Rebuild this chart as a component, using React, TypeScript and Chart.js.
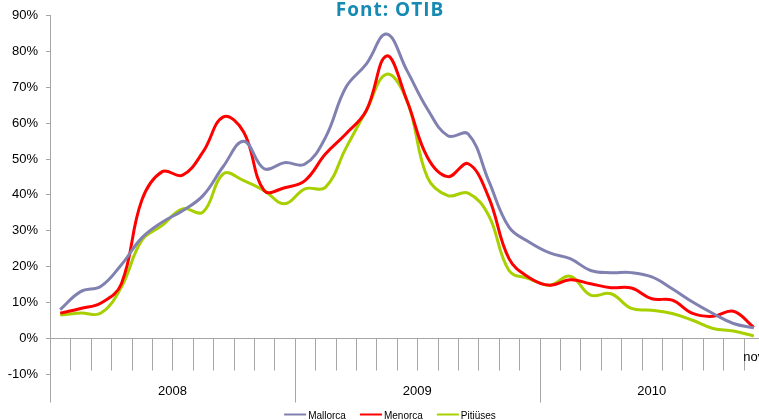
import React, { useEffect, useRef } from "react";
import { Chart, registerables } from "chart.js";

Chart.register(...registerables);

// ---- data ----
const titleText = "Font: OTIB";
const years = ["2008", "2009", "2010"];
const monthsPerYear = [12, 12, 11];
const monthNames = ["gen", "feb", "mar", "abr", "mai", "jun", "jul", "ago", "set", "oct", "nov", "des"];
const shownMonthLabel = "nov"; // only the last month label is visible in the original

const mallorca = [8, 13, 14.5, 20.5, 28, 32.4, 35.6, 39.8, 48, 55, 47.3, 49, 48.6, 56, 70, 76.5, 84.9, 74.7, 64, 56.5, 57, 44, 31, 26.8, 23.8, 22.2, 18.9, 18.3, 18.3, 17.1, 13.8, 10.1, 6.9, 4.1, 2.9];
const menorca = [7, 8.3, 9.8, 15.2, 38.5, 46.5, 45.5, 52, 61.8, 57.5, 41.2, 42, 44, 51.4, 57, 63.5, 78.8, 66.3, 50.5, 45.1, 48.7, 39.4, 22.2, 16.9, 14.8, 16.3, 15.2, 14.1, 14, 11, 10.6, 6.9, 6.1, 7.5, 3];
const pitiuses = [6.5, 7, 7, 14.3, 27.3, 31.5, 36.1, 35.2, 45.9, 44, 41.2, 37.5, 41.7, 42.1, 53, 63.5, 73.7, 66.3, 44.9, 39.8, 40.5, 34.3, 18.9, 16.6, 14.8, 17.3, 12, 12.4, 8.3, 7.8, 6.9, 5, 2.7, 2, 0.6];

const seriesNames = ["Mallorca", "Menorca", "Pitiüses"];
const seriesColors = ["#8181b1", "#ff0000", "#a8d000"];

const yMin = -10;
const yMax = 90;
const yStep = 10;

// categories built from the arrays above
const categories: string[] = [];
const categoryYear: number[] = [];
years.forEach((yr, yi) => {
  for (let m = 0; m < monthsPerYear[yi]; m++) {
    categories.push(monthNames[m] + " " + yr);
    categoryYear.push(yi);
  }
});

const AXIS_COLOR = "#a6a6a6";
const TEXT_FONT = "'Liberation Sans', Arial, sans-serif";

const decorPlugin = {
  id: "decor",
  beforeDatasetsDraw(chart: any) {
    const { ctx, chartArea, scales } = chart;
    const x = scales.x;
    const y = scales.y;
    const y0 = Math.round(y.getPixelForValue(0)) + 0.5;
    const step = x.getPixelForValue(1) - x.getPixelForValue(0);
    ctx.save();
    ctx.strokeStyle = AXIS_COLOR;
    ctx.lineWidth = 1;
    // category axis line
    ctx.beginPath();
    ctx.moveTo(chartArea.left, y0);
    ctx.lineTo(chartArea.right, y0);
    ctx.stroke();
    // tick marks between categories
    for (let i = 0; i <= categories.length; i++) {
      const bx = Math.round(x.getPixelForValue(i) - step / 2) + 0.5;
      const isYearEdge = i === 0 || i === categories.length || categoryYear[i] !== categoryYear[i - 1];
      ctx.beginPath();
      ctx.moveTo(bx, y0);
      ctx.lineTo(bx, y0 + (isYearEdge ? 64 : 32));
      ctx.stroke();
    }
    // year labels
    ctx.fillStyle = "#000";
    ctx.font = "13px " + TEXT_FONT;
    ctx.textAlign = "center";
    ctx.textBaseline = "middle";
    let start = 0;
    years.forEach((yr, yi) => {
      const end = start + monthsPerYear[yi] - 1;
      const cx = (x.getPixelForValue(start) + x.getPixelForValue(end)) / 2;
      ctx.fillText(yr, cx, y0 + 52.5);
      start = end + 1;
    });
    // the only visible month label
    ctx.fillText(shownMonthLabel, x.getPixelForValue(categories.length - 1), y0 + 18.5);
    ctx.restore();
  },
  afterDraw(chart: any) {
    const { ctx } = chart;
    ctx.save();
    // title
    ctx.fillStyle = "#168ab2";
    ctx.font = "700 19px 'Open Sans', sans-serif";
    (ctx as any).letterSpacing = "1px";
    ctx.textAlign = "center";
    ctx.textBaseline = "alphabetic";
    ctx.fillText(titleText, 390, 16);
    (ctx as any).letterSpacing = "0px";
    // legend
    ctx.font = "10px " + TEXT_FONT;
    ctx.textBaseline = "middle";
    ctx.textAlign = "left";
    const lineLen = 22;
    const gapLine = 2;
    const gapItem = 14;
    const widths = seriesNames.map((n) => lineLen + gapLine + ctx.measureText(n).width);
    const total = widths.reduce((a, b) => a + b, 0) + gapItem * (seriesNames.length - 1);
    let lx = 390 - total / 2;
    const ly = 414.5;
    seriesNames.forEach((n, i) => {
      ctx.strokeStyle = seriesColors[i];
      ctx.lineWidth = 2;
      ctx.beginPath();
      ctx.moveTo(lx, ly);
      ctx.lineTo(lx + lineLen, ly);
      ctx.stroke();
      ctx.fillStyle = "#000";
      ctx.fillText(n, lx + lineLen + gapLine, ly + 1.5);
      lx += widths[i] + gapItem;
    });
    ctx.restore();
  },
};

export default function App() {
  const canvasRef = useRef<HTMLCanvasElement | null>(null);

  useEffect(() => {
    const canvas = canvasRef.current;
    if (!canvas) return;
    const series = [mallorca, menorca, pitiuses];
    const chart = new Chart(canvas, {
      type: "line",
      data: {
        labels: categories,
        datasets: series.map((d, i) => ({
          label: seriesNames[i],
          data: d,
          borderColor: seriesColors[i],
          backgroundColor: seriesColors[i],
          borderWidth: 3,
          pointRadius: 0,
          tension: 0.4,
          fill: false,
        })),
      },
      options: {
        responsive: false,
        animation: false,
        devicePixelRatio: 1,
        layout: { padding: { top: 15, bottom: 46, left: 0, right: 11 } },
        plugins: {
          legend: { display: false },
          title: { display: false },
          tooltip: { enabled: false },
        },
        scales: {
          x: {
            type: "category",
            display: false,
            offset: true,
          },
          y: {
            min: yMin,
            max: yMax,
            afterFit: (s: any) => {
              s.width = 50;
            },
            ticks: {
              stepSize: yStep,
              padding: 8,
              color: "#000",
              font: { size: 13, family: TEXT_FONT },
              callback: (v: any) => v + "%",
            },
            grid: {
              display: true,
              drawOnChartArea: false,
              drawTicks: true,
              tickLength: 4,
              color: AXIS_COLOR,
            },
            border: { display: true, color: AXIS_COLOR },
          },
        },
      },
      plugins: [decorPlugin],
    });
    return () => chart.destroy();
  }, []);

  return (
    <div style={{ position: "fixed", left: 0, top: 0, width: 759, height: 420, overflow: "hidden", background: "#fff" }}>
      <canvas ref={canvasRef} width={775} height={420} style={{ display: "block" }} />
    </div>
  );
}
